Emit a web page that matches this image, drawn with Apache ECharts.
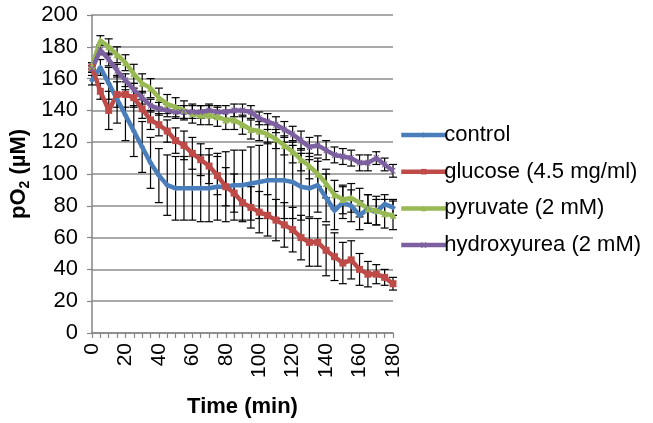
<!DOCTYPE html>
<html>
<head>
<meta charset="utf-8">
<script src="https://cdn.jsdelivr.net/npm/echarts@6/dist/echarts.min.js"></script>
<style>html,body{margin:0;padding:0;background:#fff}#c{width:653px;height:423px}</style>
</head>
<body>
<div id="c"></div>
<script>
const times = [0,5,10,15,20,25,30,35,40,45,50,55,60,65,70,75,80,85,90,95,100,105,110,115,120,125,130,135,140,145,150,155,160,165,170,175,180];
const xTicks = [0,20,40,60,80,100,120,140,160,180];
const yTicks = [0,20,40,60,80,100,120,140,160,180,200];
const seriesNames = ['control','glucose (4.5 mg/ml)','pyruvate (2 mM)','hydroxyurea (2 mM)'];

const control = [159,167,157,147,137,127,117,107,99,93,91,91,91,91,91,92,92,93,93,94,95,96,96,96,95,92,91,93,85,77,82,80,74,78,76,81,79];
const controlErr = [3,5,10,15,16,16,16,16,17,19,20,20,20,21,21,21,22,22,22,23,23,24,24,24,23,21,18,17,15,12,10,10,9,9,8,6,5];

const glucose = [167,152,140,150,150,148,141,134,131,127,121,118,113,109,105,99,92,88,82,79,76,74,71,68,65,60,57,57,52,48,44,46,40,37,37,35,31];
const glucoseErr = [3,5,12,8,8,6,6,6,7,7,8,9,10,10,11,12,12,12,12,13,13,13,13,14,14,14,15,15,16,15,13,12,10,8,6,5,4];

const pyruvate = [168,184,180,175,170,163,157,154,148,144,142,140,138,137,137,136,134,134,131,128,127,125,122,118,114,109,105,100,94,87,84,85,82,78,77,75,74];
const pyruvateErr = [2,3,5,5,5,6,6,6,6,6,6,6,6,6,6,6,6,6,6,6,6,6,6,6,7,7,8,8,9,9,9,9,9,9,9,9,9];

const hydroxyurea = [166,178,172,165,159,153,148,143,141,140,139,139,139,139,140,139,139,140,140,139,135,133,131,128,125,121,117,118,115,112,111,110,107,107,110,106,102];
const hydroxyureaErr = [2,3,4,4,4,4,4,4,4,4,4,4,4,4,4,4,4,4,4,4,4,5,5,5,5,6,6,6,6,5,5,5,5,5,4,4,4];

const colors = ['#4a7ebb','#be4b48','#98b954','#7d60a0'];
const symbols = ['diamond','rect','triangle','path://M0,0L2,0L5,3L8,0L10,0L6,5L10,10L8,10L5,7L2,10L0,10L4,5Z'];
const symSizes = [6,7,7,6];
const means = [control, glucose, pyruvate, hydroxyurea];
const errs = [controlErr, glucoseErr, pyruvateErr, hydroxyureaErr];

const FONT = '"Liberation Sans", Arial, sans-serif';

function errSeries(mean, err){
  return {
    type:'custom', silent:true, z:1,
    data: times.map((t,i)=>[t, mean[i]-err[i], mean[i]+err[i]]),
    renderItem: function(params, api){
      const lo = api.coord([api.value(0), api.value(1)]);
      const hi = api.coord([api.value(0), api.value(2)]);
      const w = 4;
      const st = {stroke:'#000', lineWidth:1.2};
      return {type:'group', children:[
        {type:'line', shape:{x1:lo[0],y1:lo[1],x2:hi[0],y2:hi[1]}, style:st},
        {type:'line', shape:{x1:lo[0]-w,y1:lo[1],x2:lo[0]+w,y2:lo[1]}, style:st},
        {type:'line', shape:{x1:hi[0]-w,y1:hi[1],x2:hi[0]+w,y2:hi[1]}, style:st}
      ]};
    }
  };
}

const series = [];
means.forEach((m,i)=>series.push(errSeries(m, errs[i])));
means.forEach((m,i)=>series.push({
  name: seriesNames[i], type:'line', z:3,
  data: times.map((t,j)=>[t, m[j]]),
  symbol: symbols[i], symbolSize: symSizes[i], showSymbol:true,
  lineStyle:{width:4.5, color:colors[i]},
  itemStyle:{color:colors[i]},
  emphasis:{disabled:true}
}));

const chart = echarts.init(document.getElementById('c'), null, {renderer:'canvas'});
chart.setOption({
  animation:false,
  textStyle:{fontFamily:FONT},
  grid:{left:92, right:260, top:15, bottom:90, containLabel:false},
  legend:{
    orient:'vertical', left:394, top:117, itemGap:10.7,
    itemWidth:45, itemHeight:7,
    data: seriesNames,
    lineStyle:{width:4.5},
    textStyle:{fontSize:22, color:'#000', fontFamily:FONT, padding:[0,0,0,-7], lineHeight:26}
  },
  xAxis:{
    type:'value', min:0, max:180, interval:20,
    name:'Time (min)', nameLocation:'middle', nameGap:63,
    nameTextStyle:{fontSize:22, fontWeight:'bold', color:'#000', fontFamily:FONT},
    axisLine:{lineStyle:{color:'#868686', width:1.5}},
    axisTick:{show:true, length:5, lineStyle:{color:'#868686', width:1.2}},
    minorTick:{show:true, splitNumber:4, length:5, lineStyle:{color:'#868686', width:1.2}},
    splitLine:{show:false},
    axisLabel:{rotate:90, fontSize:21, color:'#000', margin:10, fontFamily:FONT,
      formatter: v => xTicks.includes(v) ? String(v) : ''}
  },
  yAxis:{
    type:'value', min:0, max:200, interval:20,
    name:'{a|pO}{s|2}{a| (µM)}', nameLocation:'middle', nameRotate:90, nameGap:60,
    nameTextStyle:{rich:{
      a:{fontSize:22, fontWeight:'bold', color:'#000', fontFamily:FONT},
      s:{fontSize:14, fontWeight:'bold', color:'#000', fontFamily:FONT, padding:[12,0,0,0]}
    }},
    axisLine:{show:true, lineStyle:{color:'#868686', width:1.5}},
    axisTick:{show:true, length:5, lineStyle:{color:'#868686', width:1.2}},
    splitLine:{lineStyle:{color:'#8c8c8c', width:1.5}},
    axisLabel:{fontSize:22, color:'#000', margin:14, fontFamily:FONT,
      formatter: v => yTicks.includes(v) ? String(v) : ''}
  },
  series: series
});
</script>
</body>
</html>
